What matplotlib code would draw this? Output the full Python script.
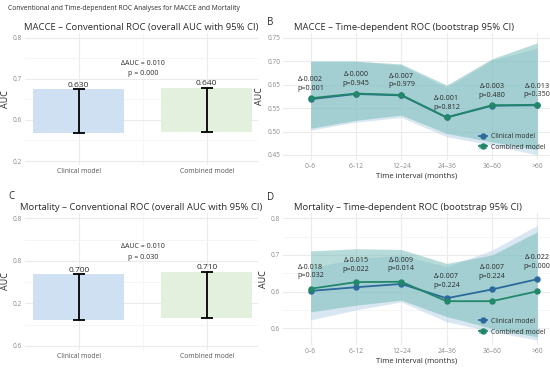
import matplotlib
matplotlib.use("Agg")
import matplotlib.pyplot as plt
from matplotlib.patches import Patch
from matplotlib.lines import Line2D
import numpy as np

plt.rcParams['font.family'] = ['Open Sans', 'DejaVu Sans']

# ---------------- data ----------------
models = ["Clinical model", "Combined model"]
intervals = ["0–6", "6–12", "12–24", "24–36", "36–60", ">60"]

# Panel A (MACCE conventional)
a_auc_labels = ["0.630", "0.640"]
a_ci_low = [0.567, 0.570]
a_ci_high = [0.674, 0.678]
a_delta_text = "ΔAUC = 0.010\np = 0.000"
a_yticks = [0.5, 0.6, 0.7, 0.8]
a_yticklabels = ["0.2", "0.6", "0.7", "0.8"]

# Panel C (Mortality conventional)
c_auc_labels = ["0.700", "0.710"]
c_ci_low = [0.562, 0.565]
c_ci_high = [0.668, 0.674]
c_delta_text = "ΔAUC = 0.010\np = 0.030"
c_yticks = [0.5, 0.6, 0.7, 0.8]
c_yticklabels = ["0.6", "0.2", "0.8", "0.8"]

# Panel B (MACCE time-dependent)
b_clin = [0.569, 0.580, 0.577, 0.530, 0.555, 0.556]
b_comb = [0.571, 0.581, 0.578, 0.530, 0.556, 0.557]
b_clin_lo = [0.503, 0.520, 0.530, 0.489, 0.471, 0.450]
b_clin_hi = [0.650, 0.650, 0.641, 0.594, 0.652, 0.678]
b_comb_lo = [0.507, 0.524, 0.535, 0.496, 0.478, 0.461]
b_comb_hi = [0.650, 0.650, 0.644, 0.599, 0.655, 0.689]
b_notes = ["Δ-0.002\np=0.001", "Δ-0.000\np=0.945", "Δ-0.007\np=0.979",
           "Δ-0.001\np=0.812", "Δ-0.003\np=0.480", "Δ-0.013\np=0.350"]
b_yticks = [0.45, 0.50, 0.55, 0.60, 0.65, 0.70]
b_yticklabels = ["0.45", "0.50", "0.55", "0.65", "0.70", "0.75"]

# Panel D (Mortality time-dependent)
d_clin = [0.602, 0.612, 0.621, 0.582, 0.606, 0.634]
d_comb = [0.608, 0.626, 0.627, 0.574, 0.574, 0.601]
d_clin_lo = [0.523, 0.550, 0.572, 0.518, 0.491, 0.468]
d_clin_hi = [0.665, 0.690, 0.700, 0.668, 0.713, 0.781]
d_comb_lo = [0.545, 0.563, 0.577, 0.532, 0.500, 0.477]
d_comb_hi = [0.711, 0.717, 0.715, 0.677, 0.700, 0.763]
d_notes = ["Δ-0.018\np=0.032", "Δ-0.015\np=0.022", "Δ-0.009\np=0.014",
           "Δ-0.007\np=0.224", "Δ-0.007\np=0.224", "Δ-0.022\np=0.000"]
d_yticks = [0.5, 0.6, 0.7, 0.8]
d_yticklabels = ["0.6", "0.6", "0.7", "0.8"]

# ---------------- style ----------------
W, H = 550, 371
fig = plt.figure(figsize=(W / 100, H / 100), dpi=100)
fig.patch.set_facecolor("white")

def ax_px(l, t, r, b):
    return fig.add_axes([l / W, 1 - b / H, (r - l) / W, (b - t) / H])

GRID = "#ebebeb"
TICK = "#8a8a8a"
DARK = "#2b2b2b"
CLIN = "#2b6a9a"
COMB = "#23876a"
BAR_CLIN = "#cfe0f2"
BAR_COMB = "#e4f0de"
BAND_CLIN = "#b3d0e6"
BAND_COMB = "#6fb9b3"

def base_style(ax):
    for s in ax.spines.values():
        s.set_visible(False)
    ax.tick_params(length=0, labelsize=4.7, labelcolor=TICK, pad=2)
    ax.set_axisbelow(True)
    ax.grid(True, which="major", color=GRID, lw=0.8)
    ax.grid(True, which="minor", color="#f4f4f4", lw=0.6)

def conv_panel(ax, lo, hi, labels, delta_text, yticks, yticklabels, ylim, title):
    base_style(ax)
    x = np.arange(len(models))
    ax.bar(x, np.array(hi) - np.array(lo), bottom=lo, width=0.71,
           color=[BAR_CLIN, BAR_COMB], zorder=2)
    mid = (np.array(hi) + np.array(lo)) / 2
    ax.errorbar(x, mid, yerr=[mid - np.array(lo), np.array(hi) - mid], fmt="none",
                ecolor="black", elinewidth=1.3, capsize=4.6, capthick=1.3, zorder=3)
    for xi, h, lab in zip(x, hi, labels):
        ax.annotate(lab, (xi, h), xytext=(0, 0.5), textcoords="offset points",
                    ha="center", va="bottom", fontsize=6, color=DARK)
    ax.text(0.5, max(hi) + 0.047, delta_text, ha="center", va="center",
            fontsize=5, color=DARK, linespacing=1.7)
    ax.set_xlim(-0.42, 1.4)
    ax.set_ylim(*ylim)
    ax.set_xticks(x)
    ax.set_xticklabels(models, fontsize=4.9, color="#555555")
    ax.set_xticks([0.5], minor=True)
    ax.set_yticks(yticks)
    ax.set_yticklabels(yticklabels)
    ax.set_yticks([(a + b) / 2 for a, b in zip(yticks[:-1], yticks[1:])], minor=True)
    ax.tick_params(which="minor", length=0)
    ax.set_ylabel("AUC", fontsize=6.5, color=DARK, labelpad=2)
    ax.set_title(title, fontsize=6.8, color=DARK, pad=2)

def td_panel(ax, clin, comb, clo, chi, mlo, mhi, notes, off, yticks, yticklabels,
             ylim, title, minor=True):
    base_style(ax)
    x = np.arange(len(intervals))
    ax.fill_between(x, clo, chi, color=BAND_CLIN, alpha=0.5, lw=0, zorder=1)
    ax.fill_between(x, mlo, mhi, color=BAND_COMB, alpha=0.5, lw=0, zorder=1)
    ax.plot(x, clin, color=CLIN, lw=1.3, marker="o", ms=3.6, zorder=3)
    ax.plot(x, comb, color=COMB, lw=1.3, marker="o", ms=3.6, zorder=4)
    for xi, a, b, n in zip(x, clin, comb, notes):
        ax.text(xi, max(a, b) + off, n, ha="center", va="bottom", fontsize=5.2,
                color=DARK, linespacing=1.3, zorder=5)
    ax.set_xlim(-0.61, 5.28)
    ax.set_ylim(*ylim)
    ax.set_xticks(x)
    ax.set_xticklabels(intervals, fontsize=4.9, color=TICK)
    ax.set_yticks(yticks)
    ax.set_yticklabels(yticklabels)
    if minor:
        ax.set_yticks([(a + b) / 2 for a, b in zip(yticks[:-1], yticks[1:])], minor=True)
    ax.tick_params(which="minor", length=0)
    ax.set_xlabel("Time interval (months)", fontsize=5.6, color=DARK, labelpad=2)
    ax.set_ylabel("AUC", fontsize=6.5, color=DARK, labelpad=2)
    ax.set_title(title, fontsize=6.8, color=DARK, pad=2, loc="left", x=0.04)
    h1 = (Patch(facecolor=BAND_CLIN, alpha=0.8, lw=0),
          Line2D([], [], color=CLIN, lw=1.3, marker="o", ms=3.6))
    h2 = (Patch(facecolor=BAND_COMB, alpha=0.6, lw=0),
          Line2D([], [], color=COMB, lw=1.3, marker="o", ms=3.6))
    ax.legend([h1, h2], models, loc="lower right", bbox_to_anchor=(1.0, 0.035),
              fontsize=4.9, frameon=False, handlelength=1.3, handletextpad=0.5,
              labelspacing=0.55, labelcolor=DARK, borderaxespad=0.3)

axA = ax_px(25, 33, 258, 165)
conv_panel(axA, a_ci_low, a_ci_high, a_auc_labels, a_delta_text, a_yticks, a_yticklabels,
           (0.4903, 0.8114), "MACCE – Conventional ROC (overall AUC with 95% CI)")

axC = ax_px(25, 213, 258, 350)
conv_panel(axC, c_ci_low, c_ci_high, c_auc_labels, c_delta_text, c_yticks, c_yticklabels,
           (0.4906, 0.8125), "Mortality – Conventional ROC (overall AUC with 95% CI)")

axB = ax_px(283, 33, 550, 160)
td_panel(axB, b_clin, b_comb, b_clin_lo, b_clin_hi, b_comb_lo, b_comb_hi, b_notes, 0.014,
         b_yticks, b_yticklabels, (0.4393, 0.710),
         "MACCE – Time-dependent ROC (bootstrap 95% CI)", minor=False)

axD = ax_px(283, 213, 550, 345)
td_panel(axD, d_clin, d_comb, d_clin_lo, d_clin_hi, d_comb_lo, d_comb_hi, d_notes, 0.026,
         d_yticks, d_yticklabels, (0.4545, 0.8145),
         "Mortality – Time-dependent ROC (bootstrap 95% CI)")

fig.text(8 / W, 1 - 8.3 / H, "Conventional and Time-dependent ROC Analyses for MACCE and Mortality",
         ha="left", va="center", fontsize=4.9, color=DARK)
for lab, x, y in [("B", 267, 22.7), ("C", 8, 196.5), ("D", 267, 197.3)]:
    fig.text(x / W, 1 - y / H, lab, ha="left", va="center", fontsize=7, color=DARK)

fig.savefig("out.png", dpi=100, facecolor="white")
